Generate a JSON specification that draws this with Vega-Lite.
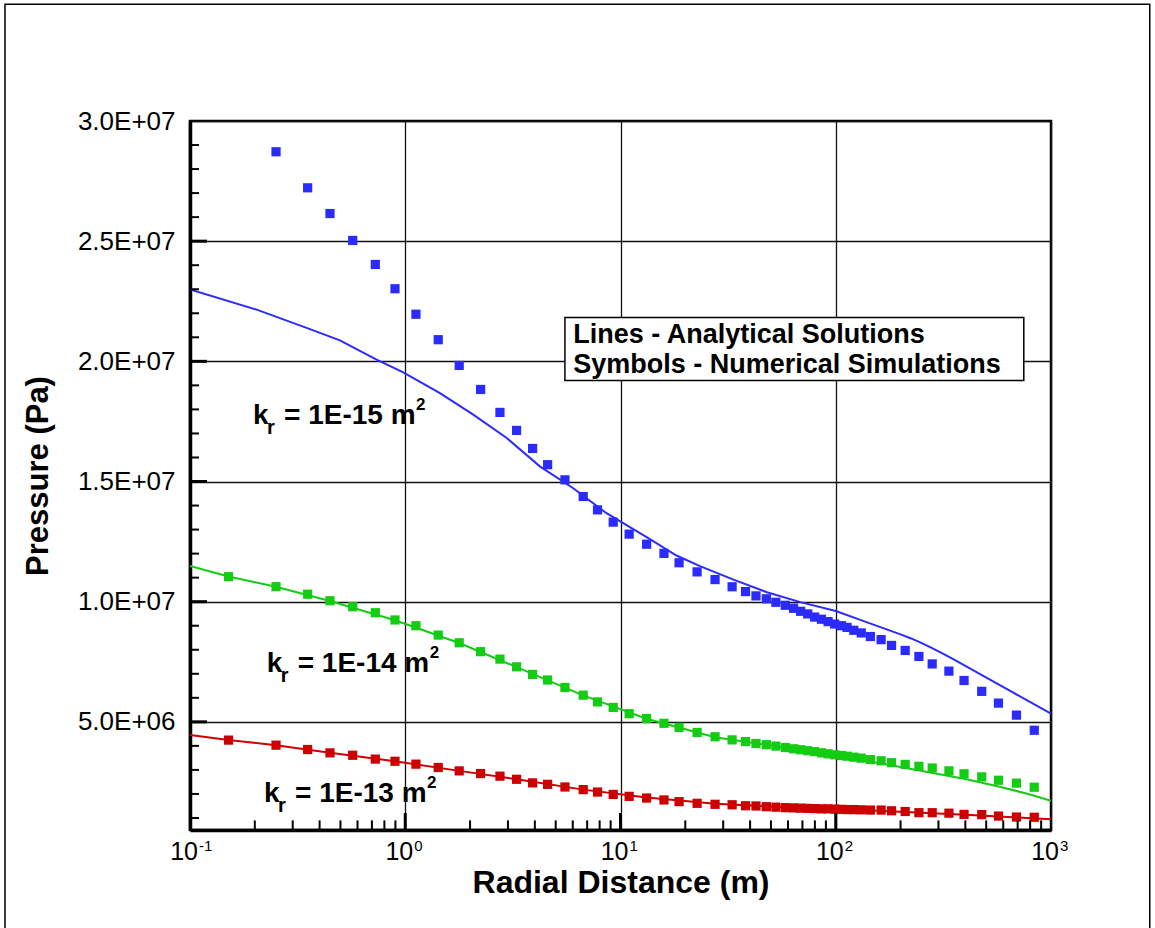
{
  "$schema": "https://vega.github.io/schema/vega-lite/v6.json",
  "width": 861,
  "height": 709,
  "autosize": "none",
  "padding": {"left": 190, "top": 121, "right": 104, "bottom": 98},
  "background": "white",
  "config": {
    "view": {"stroke": "black", "strokeWidth": 2.5},
    "font": "Liberation Sans",
    "axis": {"labelFont": "Liberation Sans", "titleFont": "Liberation Sans"},
    "text": {"font": "Liberation Sans"}
  },
  "datasets": {
    "lines": [
      {"s":"15","x":0.1,"p":2.299e7},{"s":"15","x":0.204,"p":2.215e7},{"s":"15","x":0.348,"p":2.139e7},{"s":"15","x":0.497,"p":2.087e7},{"s":"15","x":0.736,"p":2.007e7},{"s":"15","x":0.979,"p":1.954e7},{"s":"15","x":1.449,"p":1.868e7},{"s":"15","x":2.07,"p":1.778e7},{"s":"15","x":2.96,"p":1.681e7},{"s":"15","x":4.22,"p":1.563e7},{"s":"15","x":6.03,"p":1.472e7},{"s":"15","x":8.61,"p":1.368e7},{"s":"15","x":13.7,"p":1.260e7},{"s":"15","x":18.2,"p":1.192e7},{"s":"15","x":23.4,"p":1.148e7},{"s":"15","x":33.5,"p":1.092e7},{"s":"15","x":47.9,"p":1.039e7},{"s":"15","x":68.5,"p":9.98e6},{"s":"15","x":100,"p":9.61e6},{"s":"15","x":140,"p":9.14e6},{"s":"15","x":200,"p":8.64e6},{"s":"15","x":224,"p":8.47e6},{"s":"15","x":251,"p":8.275e6},{"s":"15","x":282,"p":8.06e6},{"s":"15","x":316,"p":7.83e6},{"s":"15","x":355,"p":7.59e6},{"s":"15","x":398,"p":7.34e6},{"s":"15","x":501,"p":6.84e6},{"s":"15","x":631,"p":6.34e6},{"s":"15","x":794,"p":5.84e6},{"s":"15","x":1000,"p":5.34e6},
      {"s":"14","x":0.1,"p":1.149e7},{"s":"14","x":0.151,"p":1.105e7},{"s":"14","x":0.251,"p":1.062e7},{"s":"14","x":0.447,"p":1.003e7},{"s":"14","x":0.896,"p":9.23e6},{"s":"14","x":1.781,"p":8.28e6},{"s":"14","x":3.29,"p":7.28e6},{"s":"14","x":6.71,"p":6.10e6},{"s":"14","x":13.22,"p":5.13e6},{"s":"14","x":27.5,"p":4.36e6},{"s":"14","x":52.7,"p":3.98e6},{"s":"14","x":99,"p":3.62e6},{"s":"14","x":200,"p":3.12e6},{"s":"14","x":400,"p":2.62e6},{"s":"14","x":584,"p":2.29e6},{"s":"14","x":800,"p":1.98e6},{"s":"14","x":1000,"p":1.71e6},
      {"s":"13","x":0.1,"p":4.45e6},{"s":"13","x":0.151,"p":4.24e6},{"s":"13","x":0.251,"p":4.03e6},{"s":"13","x":0.447,"p":3.71e6},{"s":"13","x":0.896,"p":3.36e6},{"s":"13","x":1.781,"p":2.96e6},{"s":"13","x":3.29,"p":2.61e6},{"s":"13","x":6.71,"p":2.18e6},{"s":"13","x":13.22,"p":1.85e6},{"s":"13","x":27.5,"p":1.59e6},{"s":"13","x":52.7,"p":1.47e6},{"s":"13","x":100,"p":1.38e6},{"s":"13","x":200,"p":1.26e6},{"s":"13","x":400,"p":1.13e6},{"s":"13","x":700,"p":1.02e6},{"s":"13","x":1000,"p":0.95e6}
    ],
    "pts": [
      {"s":"15","x":0.251,"p":2.872e7},{"s":"15","x":0.352,"p":2.722e7},{"s":"15","x":0.447,"p":2.615e7},{"s":"15","x":0.570,"p":2.503e7},{"s":"15","x":0.726,"p":2.403e7},{"s":"15","x":0.896,"p":2.302e7},{"s":"15","x":1.121,"p":2.196e7},{"s":"15","x":1.423,"p":2.090e7},{"s":"15","x":1.781,"p":1.983e7},{"s":"15","x":2.239,"p":1.883e7},
      {"s":"15","x":2.754,"p":1.7875e7},{"s":"15","x":3.29,"p":1.7125e7},{"s":"15","x":3.906,"p":1.6375e7},{"s":"15","x":4.585,"p":1.570e7},{"s":"15","x":5.52,"p":1.507e7},{"s":"15","x":6.71,"p":1.4375e7},{"s":"15","x":7.82,"p":1.382e7},{"s":"15","x":9.25,"p":1.331e7},{"s":"15","x":10.97,"p":1.281e7},{"s":"15","x":13.22,"p":1.239e7},
      {"s":"15","x":15.92,"p":1.201e7},{"s":"15","x":18.71,"p":1.162e7},{"s":"15","x":22.69,"p":1.124e7},{"s":"15","x":27.5,"p":1.092e7},{"s":"15","x":33.0,"p":1.062e7},{"s":"15","x":38.1,"p":1.042e7},{"s":"15","x":42.6,"p":1.024e7},{"s":"15","x":47.6,"p":1.012e7},{"s":"15","x":52.7,"p":9.975e6},{"s":"15","x":58.3,"p":9.85e6},
      {"s":"15","x":63.7,"p":9.725e6},{"s":"15","x":68.7,"p":9.6e6},{"s":"15","x":74.1,"p":9.49e6},{"s":"15","x":79.8,"p":9.36e6},{"s":"15","x":85.8,"p":9.27e6},{"s":"15","x":92.1,"p":9.17e6},{"s":"15","x":98.9,"p":9.07e6},{"s":"15","x":106.3,"p":9.0e6},{"s":"15","x":112.9,"p":8.93e6},{"s":"15","x":121.3,"p":8.81e6},
      {"s":"15","x":131.4,"p":8.70e6},{"s":"15","x":144.8,"p":8.55e6},{"s":"15","x":162.5,"p":8.42e6},{"s":"15","x":181.6,"p":8.18e6},{"s":"15","x":210.2,"p":7.97e6},{"s":"15","x":243.4,"p":7.72e6},{"s":"15","x":280.6,"p":7.41e6},{"s":"15","x":335.5,"p":7.11e6},{"s":"15","x":394.5,"p":6.72e6},{"s":"15","x":476.6,"p":6.27e6},
      {"s":"15","x":570,"p":5.78e6},{"s":"15","x":691,"p":5.28e6},{"s":"15","x":836,"p":4.65e6},
      {"s":"14","x":0.151,"p":1.104e7},{"s":"14","x":0.251,"p":1.0625e7},{"s":"14","x":0.352,"p":1.031e7},{"s":"14","x":0.447,"p":1.004e7},{"s":"14","x":0.570,"p":9.79e6},{"s":"14","x":0.726,"p":9.54e6},{"s":"14","x":0.896,"p":9.24e6},{"s":"14","x":1.121,"p":9.0e6},{"s":"14","x":1.423,"p":8.61e6},{"s":"14","x":1.781,"p":8.29e6},{"s":"14","x":2.239,"p":7.92e6},
      {"s":"14","x":2.754,"p":7.61e6},{"s":"14","x":3.29,"p":7.29e6},{"s":"14","x":3.906,"p":6.975e6},{"s":"14","x":4.585,"p":6.74e6},{"s":"14","x":5.52,"p":6.43e6},{"s":"14","x":6.71,"p":6.11e6},{"s":"14","x":7.82,"p":5.83e6},{"s":"14","x":9.25,"p":5.6e6},{"s":"14","x":10.97,"p":5.34e6},{"s":"14","x":13.22,"p":5.14e6},
      {"s":"14","x":15.92,"p":4.94e6},{"s":"14","x":18.71,"p":4.77e6},{"s":"14","x":22.69,"p":4.56e6},{"s":"14","x":27.5,"p":4.38e6},{"s":"14","x":33.0,"p":4.25e6},{"s":"14","x":38.1,"p":4.18e6},{"s":"14","x":42.6,"p":4.10e6},{"s":"14","x":47.6,"p":4.05e6},{"s":"14","x":52.7,"p":3.99e6},{"s":"14","x":58.3,"p":3.93e6},
      {"s":"14","x":63.7,"p":3.88e6},{"s":"14","x":68.7,"p":3.84e6},{"s":"14","x":74.1,"p":3.80e6},{"s":"14","x":79.8,"p":3.76e6},{"s":"14","x":85.8,"p":3.71e6},{"s":"14","x":92.1,"p":3.67e6},{"s":"14","x":98.9,"p":3.63e6},{"s":"14","x":106.3,"p":3.60e6},{"s":"14","x":112.9,"p":3.57e6},{"s":"14","x":121.3,"p":3.53e6},
      {"s":"14","x":131.4,"p":3.49e6},{"s":"14","x":144.8,"p":3.43e6},{"s":"14","x":162.5,"p":3.38e6},{"s":"14","x":181.6,"p":3.30e6},{"s":"14","x":210.2,"p":3.23e6},{"s":"14","x":243.4,"p":3.15e6},{"s":"14","x":280.6,"p":3.08e6},{"s":"14","x":335.5,"p":2.96e6},{"s":"14","x":394.5,"p":2.84e6},{"s":"14","x":476.6,"p":2.71e6},
      {"s":"14","x":570,"p":2.57e6},{"s":"14","x":691,"p":2.45e6},{"s":"14","x":836,"p":2.28e6},
      {"s":"13","x":0.151,"p":4.24e6},{"s":"13","x":0.251,"p":4.03e6},{"s":"13","x":0.352,"p":3.85e6},{"s":"13","x":0.447,"p":3.71e6},{"s":"13","x":0.570,"p":3.61e6},{"s":"13","x":0.726,"p":3.45e6},{"s":"13","x":0.896,"p":3.36e6},{"s":"13","x":1.121,"p":3.24e6},{"s":"13","x":1.423,"p":3.10e6},{"s":"13","x":1.781,"p":2.96e6},{"s":"13","x":2.239,"p":2.85e6},
      {"s":"13","x":2.754,"p":2.74e6},{"s":"13","x":3.29,"p":2.61e6},{"s":"13","x":3.906,"p":2.46e6},{"s":"13","x":4.585,"p":2.40e6},{"s":"13","x":5.52,"p":2.29e6},{"s":"13","x":6.71,"p":2.18e6},{"s":"13","x":7.82,"p":2.08e6},{"s":"13","x":9.25,"p":1.98e6},{"s":"13","x":10.97,"p":1.90e6},{"s":"13","x":13.22,"p":1.83e6},
      {"s":"13","x":15.92,"p":1.75e6},{"s":"13","x":18.71,"p":1.68e6},{"s":"13","x":22.69,"p":1.61e6},{"s":"13","x":27.5,"p":1.57e6},{"s":"13","x":33.0,"p":1.55e6},{"s":"13","x":38.1,"p":1.51e6},{"s":"13","x":42.6,"p":1.50e6},{"s":"13","x":47.6,"p":1.47e6},{"s":"13","x":52.7,"p":1.45e6},{"s":"13","x":58.3,"p":1.43e6},
      {"s":"13","x":63.7,"p":1.42e6},{"s":"13","x":68.7,"p":1.41e6},{"s":"13","x":74.1,"p":1.40e6},{"s":"13","x":79.8,"p":1.39e6},{"s":"13","x":85.8,"p":1.38e6},{"s":"13","x":92.1,"p":1.38e6},{"s":"13","x":98.9,"p":1.37e6},{"s":"13","x":106.3,"p":1.36e6},{"s":"13","x":112.9,"p":1.35e6},{"s":"13","x":121.3,"p":1.35e6},
      {"s":"13","x":131.4,"p":1.34e6},{"s":"13","x":144.8,"p":1.33e6},{"s":"13","x":162.5,"p":1.33e6},{"s":"13","x":181.6,"p":1.30e6},{"s":"13","x":210.2,"p":1.27e6},{"s":"13","x":243.4,"p":1.22e6},{"s":"13","x":280.6,"p":1.22e6},{"s":"13","x":335.5,"p":1.20e6},{"s":"13","x":394.5,"p":1.15e6},{"s":"13","x":476.6,"p":1.14e6},
      {"s":"13","x":570,"p":1.08e6},{"s":"13","x":691,"p":1.04e6},{"s":"13","x":836,"p":1.03e6}
    ],
    "klabels": [
      {"x":0.1962,"p":1.740e7,"t":"= 1E-15 m"},
      {"x":0.2271,"p":7.083e6,"t":"= 1E-14 m"},
      {"x":0.2207,"p":1.667e6,"t":"= 1E-13 m"}
    ],
    "boxtext": [
      {"x":6.03,"p":2.078e7,"t":"Lines - Analytical Solutions"},
      {"x":6.03,"p":1.953e7,"t":"Symbols - Numerical Simulations"}
    ],
    "xlabels": [
      {"x":0.1,"e":"-1"},{"x":1,"e":"0"},{"x":10,"e":"1"},{"x":100,"e":"2"},{"x":1000,"e":"3"}
    ],
    "ticks": [
      {"a":"y","k":"major","v":5000000},{"a":"y","k":"major","v":10000000},{"a":"y","k":"major","v":15000000},{"a":"y","k":"major","v":20000000},{"a":"y","k":"major","v":25000000},
      {"a":"y","k":"minor","v":1000000},{"a":"y","k":"minor","v":2000000},{"a":"y","k":"minor","v":3000000},{"a":"y","k":"minor","v":4000000},
      {"a":"y","k":"minor","v":6000000},{"a":"y","k":"minor","v":7000000},{"a":"y","k":"minor","v":8000000},{"a":"y","k":"minor","v":9000000},
      {"a":"y","k":"minor","v":11000000},{"a":"y","k":"minor","v":12000000},{"a":"y","k":"minor","v":13000000},{"a":"y","k":"minor","v":14000000},
      {"a":"y","k":"minor","v":16000000},{"a":"y","k":"minor","v":17000000},{"a":"y","k":"minor","v":18000000},{"a":"y","k":"minor","v":19000000},
      {"a":"y","k":"minor","v":21000000},{"a":"y","k":"minor","v":22000000},{"a":"y","k":"minor","v":23000000},{"a":"y","k":"minor","v":24000000},
      {"a":"y","k":"minor","v":26000000},{"a":"y","k":"minor","v":27000000},{"a":"y","k":"minor","v":28000000},{"a":"y","k":"minor","v":29000000},
      {"a":"x","k":"major","v":1},{"a":"x","k":"major","v":10},{"a":"x","k":"major","v":100},
      {"a":"x","k":"minor","v":0.2},{"a":"x","k":"minor","v":0.3},{"a":"x","k":"minor","v":0.4},{"a":"x","k":"minor","v":0.5},{"a":"x","k":"minor","v":0.6},{"a":"x","k":"minor","v":0.7},{"a":"x","k":"minor","v":0.8},{"a":"x","k":"minor","v":0.9},
      {"a":"x","k":"minor","v":2},{"a":"x","k":"minor","v":3},{"a":"x","k":"minor","v":4},{"a":"x","k":"minor","v":5},{"a":"x","k":"minor","v":6},{"a":"x","k":"minor","v":7},{"a":"x","k":"minor","v":8},{"a":"x","k":"minor","v":9},
      {"a":"x","k":"minor","v":20},{"a":"x","k":"minor","v":30},{"a":"x","k":"minor","v":40},{"a":"x","k":"minor","v":50},{"a":"x","k":"minor","v":60},{"a":"x","k":"minor","v":70},{"a":"x","k":"minor","v":80},{"a":"x","k":"minor","v":90},
      {"a":"x","k":"minor","v":200},{"a":"x","k":"minor","v":300},{"a":"x","k":"minor","v":400},{"a":"x","k":"minor","v":500},{"a":"x","k":"minor","v":600},{"a":"x","k":"minor","v":700},{"a":"x","k":"minor","v":800},{"a":"x","k":"minor","v":900}
    ]
  },
  "layer": [
    {
      "data": {"name": "lines"},
      "mark": {"type": "line", "strokeWidth": 2, "clip": true},
      "encoding": {
        "x": {"field": "x", "type": "quantitative",
          "scale": {"type": "log", "domain": [0.1, 1000], "nice": false},
          "axis": {
            "values": [0.1, 1, 10, 100, 1000],
            "grid": true, "gridColor": "#111", "gridWidth": 1.3,
            "ticks": false, "labels": false,
            "domain": true, "domainColor": "black", "domainWidth": 3.5,
            "title": "Radial Distance (m)", "titleFontSize": 32, "titleFontWeight": "bold", "titleColor": "black",
            "titleX": 430.5, "titleY": 62, "titleBaseline": "alphabetic"
          }
        },
        "y": {"field": "p", "type": "quantitative",
          "scale": {"domain": [500000, 30000000], "nice": false, "zero": false},
          "axis": {
            "values": [5000000, 10000000, 15000000, 20000000, 25000000, 30000000],
            "labelExpr": "datum.value < 9000000 ? '5.0E+06' : format(datum.value / 10000000, '.1f') + 'E+07'",
            "grid": true, "gridColor": "#111", "gridWidth": 1.3,
            "ticks": false,
            "domain": true, "domainColor": "black", "domainWidth": 3.5,
            "labelFontSize": 26, "labelColor": "black", "labelPadding": 15,
            "labelOverlap": false, "labelFlush": false,
            "title": "Pressure (Pa)", "titleFontSize": 31, "titleFontWeight": "bold", "titleColor": "black",
            "titleX": -136, "titleY": 354.5, "titleBaseline": "bottom"
          }
        },
        "color": {"field": "s", "type": "nominal",
          "scale": {"domain": ["15", "14", "13"], "range": ["#2b2bff", "#14cc14", "#cc0000"]},
          "legend": null}
      }
    },
    {
      "data": {"name": "pts"},
      "mark": {"type": "point", "shape": "square", "filled": true, "size": 85, "opacity": 1, "clip": true},
      "encoding": {
        "x": {"field": "x", "type": "quantitative"},
        "y": {"field": "p", "type": "quantitative"},
        "color": {"field": "s", "type": "nominal", "legend": null}
      }
    },
    {
      "data": {"name": "ticks"},
      "transform": [{"filter": "datum.a == 'y' && datum.k == 'major'"}],
      "mark": {"type": "rule", "color": "black", "strokeWidth": 3},
      "encoding": {
        "x": {"datum": 0.1, "type": "quantitative"},
        "x2": {"datum": 0.11994},
        "y": {"field": "v", "type": "quantitative"}
      }
    },
    {
      "data": {"name": "ticks"},
      "transform": [{"filter": "datum.a == 'y' && datum.k == 'minor'"}],
      "mark": {"type": "rule", "color": "black", "strokeWidth": 2},
      "encoding": {
        "x": {"datum": 0.1, "type": "quantitative"},
        "x2": {"datum": 0.1101},
        "y": {"field": "v", "type": "quantitative"}
      }
    },
    {
      "data": {"name": "ticks"},
      "transform": [{"filter": "datum.a == 'x' && datum.k == 'major'"}],
      "mark": {"type": "rule", "color": "black", "strokeWidth": 3},
      "encoding": {
        "x": {"field": "v", "type": "quantitative"},
        "y": {"datum": 500000, "type": "quantitative"},
        "y2": {"datum": 1208000}
      }
    },
    {
      "data": {"name": "ticks"},
      "transform": [{"filter": "datum.a == 'x' && datum.k == 'minor'"}],
      "mark": {"type": "rule", "color": "black", "strokeWidth": 2},
      "encoding": {
        "x": {"field": "v", "type": "quantitative"},
        "y": {"datum": 500000, "type": "quantitative"},
        "y2": {"datum": 900000}
      }
    },
    {
      "data": {"name": "xlabels"},
      "mark": {"type": "text", "align": "right", "baseline": "alphabetic", "fontSize": 25, "color": "black", "text": "10", "dx": 8, "dy": 30},
      "encoding": {
        "x": {"field": "x", "type": "quantitative"},
        "y": {"datum": 500000, "type": "quantitative"}
      }
    },
    {
      "data": {"name": "xlabels"},
      "mark": {"type": "text", "align": "left", "baseline": "alphabetic", "fontSize": 15, "color": "black", "dx": 9, "dy": 21},
      "encoding": {
        "x": {"field": "x", "type": "quantitative"},
        "y": {"datum": 500000, "type": "quantitative"},
        "text": {"field": "e"}
      }
    },
    {
      "data": {"values": [{}]},
      "mark": {"type": "rect", "fill": "white", "stroke": "black", "strokeWidth": 1.5},
      "encoding": {
        "x": {"datum": 5.518, "type": "quantitative"},
        "x2": {"datum": 747.6},
        "y": {"datum": 21820000, "type": "quantitative"},
        "y2": {"datum": 19200000}
      }
    },
    {
      "data": {"values": [{}]},
      "mark": {"type": "rect", "fill": null, "fillOpacity": 0, "stroke": "black", "strokeWidth": 1.5, "clip": false},
      "encoding": {
        "x": {"datum": 0.01382, "type": "quantitative"},
        "x2": {"datum": 2876},
        "y": {"datum": 34860000, "type": "quantitative"},
        "y2": {"datum": -3900000}
      }
    },
    {
      "data": {"name": "boxtext"},
      "mark": {"type": "text", "align": "left", "baseline": "alphabetic", "fontSize": 27, "fontWeight": "bold", "color": "black"},
      "encoding": {
        "x": {"field": "x", "type": "quantitative"},
        "y": {"field": "p", "type": "quantitative"},
        "text": {"field": "t"}
      }
    },
    {
      "data": {"name": "klabels"},
      "mark": {"type": "text", "align": "left", "baseline": "alphabetic", "fontSize": 28, "fontWeight": "bold", "color": "black", "text": "k"},
      "encoding": {
        "x": {"field": "x", "type": "quantitative"},
        "y": {"field": "p", "type": "quantitative"}
      }
    },
    {
      "data": {"name": "klabels"},
      "mark": {"type": "text", "align": "left", "baseline": "alphabetic", "fontSize": 20, "fontWeight": "bold", "color": "black", "text": "r", "dx": 14, "dy": 10},
      "encoding": {
        "x": {"field": "x", "type": "quantitative"},
        "y": {"field": "p", "type": "quantitative"}
      }
    },
    {
      "data": {"name": "klabels"},
      "mark": {"type": "text", "align": "left", "baseline": "alphabetic", "fontSize": 28, "fontWeight": "bold", "color": "black", "dx": 31},
      "encoding": {
        "x": {"field": "x", "type": "quantitative"},
        "y": {"field": "p", "type": "quantitative"},
        "text": {"field": "t"}
      }
    },
    {
      "data": {"name": "klabels"},
      "mark": {"type": "text", "align": "left", "baseline": "alphabetic", "fontSize": 17, "fontWeight": "bold", "color": "black", "text": "2", "dx": 163, "dy": -14},
      "encoding": {
        "x": {"field": "x", "type": "quantitative"},
        "y": {"field": "p", "type": "quantitative"}
      }
    }
  ]
}
